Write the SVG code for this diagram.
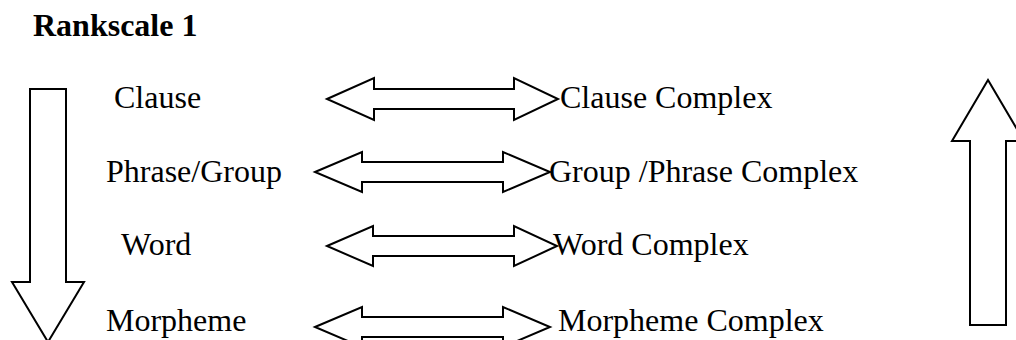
<svg xmlns="http://www.w3.org/2000/svg" width="1016" height="340" viewBox="0 0 1016 340">
<style>
.t{font-family:"Liberation Serif","Times New Roman",serif;font-size:32px;fill:#000}
.b{font-weight:bold}
.a{fill:#fff;stroke:#000;stroke-width:2;stroke-linejoin:miter}
</style>
<rect width="1016" height="340" fill="#fff"/>
<g id="title"><text class="t b" x="33" y="36">Rankscale 1</text></g>
<g id="connectors">
<polygon class="a" points="30,89 66,89 66,282 84,282 48,342 12,282 30,282"/>
<polygon class="a" points="970,325 1006,325 1006,141 1024,141 988,80 952,141 970,141"/>
<polygon class="a" points="327,99 374,78 374,89 514,89 514,78 558,99 514,120 514,109 374,109 374,120"/>
<polygon class="a" points="315,172 362,152 362,162 503,162 503,152 550,172 503,192 503,182 362,182 362,192"/>
<polygon class="a" points="327,246 373,226 373,236 514,236 514,226 557,246 514,266 514,256 373,256 373,266"/>
<polygon class="a" points="315,327 362,307 362,317 503,317 503,307 550,327 503,347 503,337 362,337 362,347"/>
</g>
<g id="clause"><text class="t" x="114" y="108">Clause</text></g>
<g id="clause-complex"><text class="t" x="560" y="108">Clause Complex</text></g>
<g id="phrase-group"><text class="t" x="106" y="182">Phrase/Group</text></g>
<g id="group-phrase-complex"><text class="t" x="549" y="182">Group /Phrase Complex</text></g>
<g id="word"><text class="t" x="121" y="255">Word</text></g>
<g id="word-complex"><text class="t" x="553" y="255">Word Complex</text></g>
<g id="morpheme"><text class="t" x="106" y="331">Morpheme</text></g>
<g id="morpheme-complex"><text class="t" x="558" y="331">Morpheme Complex</text></g>
</svg>
